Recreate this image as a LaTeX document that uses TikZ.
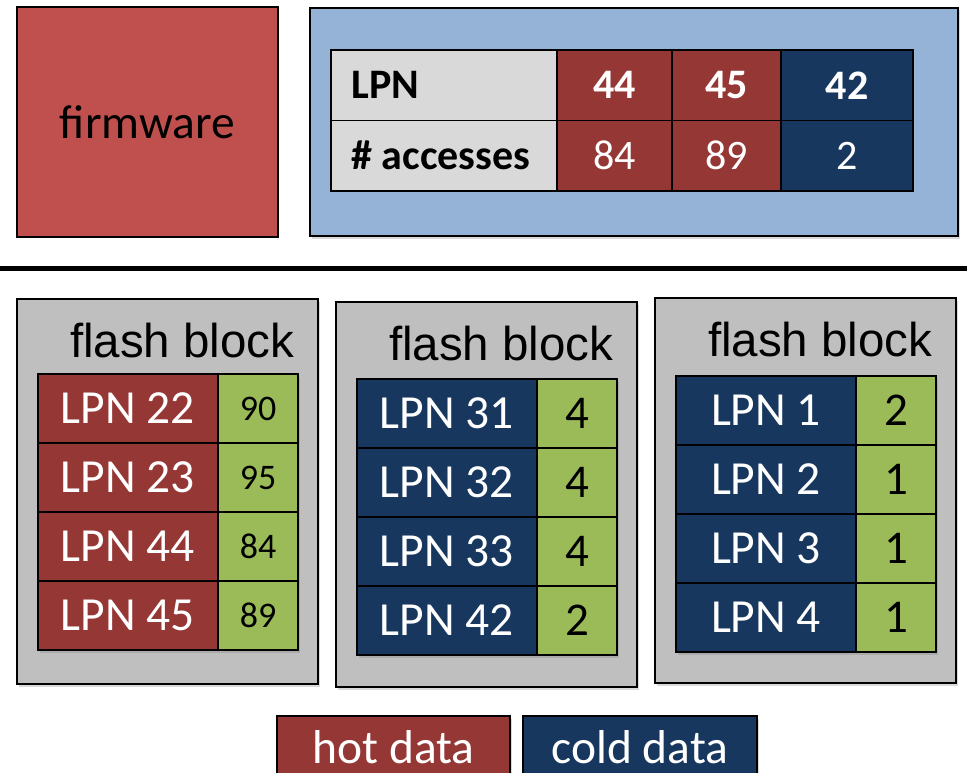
\documentclass[tikz,border=0pt]{standalone}
\usepackage{fontspec}
\setmainfont{Carlito}
\newfontfamily\arialfont{Liberation Sans}
\usetikzlibrary{positioning,shadows}

\definecolor{fwred}{HTML}{C0504D}
\definecolor{tblblue}{HTML}{95B3D7}
\definecolor{hotred}{HTML}{953735}
\definecolor{coldblue}{HTML}{17375E}
\definecolor{hdrgray}{HTML}{D9D9D9}
\definecolor{blkgray}{HTML}{BFBFBF}
\definecolor{cntgreen}{HTML}{9BBB59}

\tikzset{
    softshadow/.style={drop shadow={shadow xshift=1.5pt,shadow yshift=-2.5pt,opacity=0.3}},
    box/.style={draw=black,line width=1.2pt,inner sep=0pt,outer sep=0pt},
    hotcell/.style={box,softshadow,fill=hotred,text=white,minimum width=180pt,minimum height=69pt,font=\fontsize{47.5}{50}\selectfont},
    coldcell/.style={box,softshadow,fill=coldblue,text=white,minimum width=180pt,minimum height=69pt,font=\fontsize{47.5}{50}\selectfont},
    cntcell/.style={box,softshadow,fill=cntgreen,text=black,minimum width=80pt,minimum height=69pt,font=\fontsize{#1}{50}\selectfont},
    cntcell/.default=47,
    blockbox/.style={box,softshadow,fill=blkgray,minimum width=301pt,minimum height=385pt,anchor=north west},
    blocktitle/.style={anchor=base east,font=\arialfont\fontsize{47.5}{50}\selectfont},
    tblcell/.style={box,line width=1.5pt,text=white,minimum height=70.5pt,font=\fontsize{42}{44}\selectfont},
    tblhead/.style={font=\bfseries\fontsize{42}{44}\selectfont},
}

\begin{document}
\begin{tikzpicture}[x=1pt,y=-1pt]
    \useasboundingbox (0,0) rectangle (967,773);

    % firmware and its access table
    \node[box,fill=fwred,minimum width=261pt,minimum height=230pt,anchor=north west,
          font=\fontsize{47.5}{50}\selectfont] (fw) at (17,7) {firmware};
    \node[box,softshadow,fill=tblblue,minimum width=648pt,minimum height=228pt,anchor=north west] (tbl) at (310,8) {};

    \node[tblcell,fill=hdrgray,minimum width=226pt,anchor=north west] (hlpn) at (331,50) {};
    \node[tblcell,tblhead,fill=hotred,minimum width=115pt,right=0pt of hlpn] (l44) {44};
    \node[tblcell,tblhead,fill=hotred,minimum width=109pt,right=0pt of l44] (l45) {45};
    \node[tblcell,tblhead,fill=coldblue,minimum width=132pt,right=0pt of l45] (l42) {42};
    \node[tblcell,fill=hdrgray,minimum width=226pt,below=0pt of hlpn] (hacc) {};
    \node[tblcell,fill=hotred,minimum width=115pt,right=0pt of hacc] (a44) {84};
    \node[tblcell,fill=hotred,minimum width=109pt,right=0pt of a44] (a45) {89};
    \node[tblcell,fill=coldblue,minimum width=132pt,right=0pt of a45] (a42) {2};
    \node[tblhead,anchor=west] (tlpn) at ([xshift=17pt]hlpn.west) {LPN};
    \node[tblhead,anchor=west] (tacc) at ([xshift=17pt]hacc.west) {\# accesses};

    % firmware / flash boundary
    \coordinate (sepl) at (0,268);
    \coordinate (sepr) at (967,268);
    \draw[line width=5pt] (sepl) -- (sepr);

    % flash block with hot data
    \begin{scope}[shift={(17,299)}]
        \node[blockbox] (blk1) at (0,0) {};
        \node[blocktitle] (t1) at (281,58) {flash block};
        \node[hotcell,anchor=north west] (b1r1) at (21,75) {LPN 22};
        \node[cntcell=36,right=0pt of b1r1] (b1c1) {90};
        \node[hotcell,below=0pt of b1r1] (b1r2) {LPN 23};
        \node[cntcell=36,right=0pt of b1r2] (b1c2) {95};
        \node[hotcell,below=0pt of b1r2] (b1r3) {LPN 44};
        \node[cntcell=36,right=0pt of b1r3] (b1c3) {84};
        \node[hotcell,below=0pt of b1r3] (b1r4) {LPN 45};
        \node[cntcell=36,right=0pt of b1r4] (b1c4) {89};
    \end{scope}

    % flash block with cold data
    \begin{scope}[shift={(336,302)}]
        \node[blockbox] (blk2) at (0,0) {};
        \node[blocktitle] (t2) at (281,58) {flash block};
        \node[coldcell,anchor=north west] (b2r1) at (21,77) {LPN 31};
        \node[cntcell,right=0pt of b2r1] (b2c1) {4};
        \node[coldcell,below=0pt of b2r1] (b2r2) {LPN 32};
        \node[cntcell,right=0pt of b2r2] (b2c2) {4};
        \node[coldcell,below=0pt of b2r2] (b2r3) {LPN 33};
        \node[cntcell,right=0pt of b2r3] (b2c3) {4};
        \node[coldcell,below=0pt of b2r3] (b2r4) {LPN 42};
        \node[cntcell,right=0pt of b2r4] (b2c4) {2};
    \end{scope}

    % flash block with cold data
    \begin{scope}[shift={(655,298)}]
        \node[blockbox] (blk3) at (0,0) {};
        \node[blocktitle] (t3) at (281,58) {flash block};
        \node[coldcell,anchor=north west] (b3r1) at (21,78) {LPN 1};
        \node[cntcell,right=0pt of b3r1] (b3c1) {2};
        \node[coldcell,below=0pt of b3r1] (b3r2) {LPN 2};
        \node[cntcell,right=0pt of b3r2] (b3c2) {1};
        \node[coldcell,below=0pt of b3r2] (b3r3) {LPN 3};
        \node[cntcell,right=0pt of b3r3] (b3c3) {1};
        \node[coldcell,below=0pt of b3r3] (b3r4) {LPN 4};
        \node[cntcell,right=0pt of b3r4] (b3c4) {1};
    \end{scope}

    % legend
    \node[hotcell,minimum width=233pt,minimum height=62pt,anchor=north west] (hot) at (277,716) {hot data};
    \node[coldcell,minimum width=234pt,minimum height=62pt,anchor=north west] (cold) at (523,716) {cold data};
\end{tikzpicture}
\end{document}
